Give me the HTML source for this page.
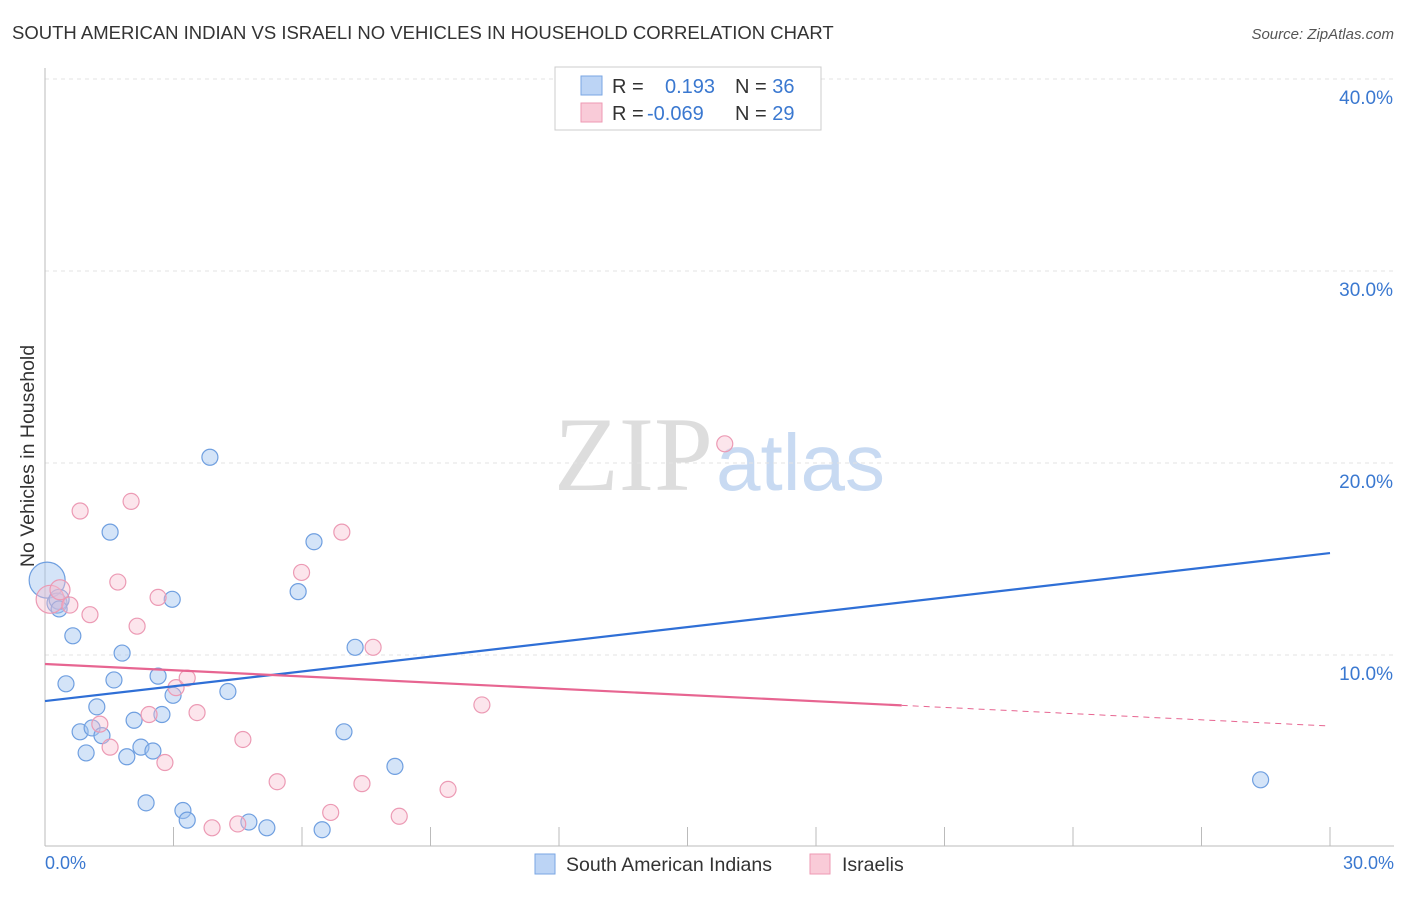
<!DOCTYPE html>
<html><head><meta charset="utf-8"><style>
body{margin:0;background:#fff;font-family:"Liberation Sans",sans-serif;}
</style></head><body>
<svg width="1406" height="892" xmlns="http://www.w3.org/2000/svg">
<text x="12" y="39" font-size="18.5" fill="#333">SOUTH AMERICAN INDIAN VS ISRAELI NO VEHICLES IN HOUSEHOLD CORRELATION CHART</text>
<text x="1394" y="39" font-size="15" fill="#555" font-style="italic" text-anchor="end">Source: ZipAtlas.com</text>
<text x="713" y="490" font-size="106" fill="#ddd" text-anchor="end" font-family="Liberation Serif">ZIP</text>
<text x="716" y="490" font-size="80" fill="#c8daf2">atlas</text>
<g id="grid"></g>
<line x1="45" y1="68" x2="45" y2="846" stroke="#bbb"/>
<line x1="45" y1="846" x2="1394" y2="846" stroke="#bbb"/>
<text transform="translate(34,456) rotate(-90)" font-size="19.5" fill="#333" text-anchor="middle">No Vehicles in Household</text>
<text x="45" y="869" font-size="18" fill="#3a78d0">0.0%</text>
<text x="1394" y="869" font-size="18" fill="#3a78d0" text-anchor="end">30.0%</text>
<g id="pts"></g>
<g id="lines"></g>
<rect x="555" y="67" width="266" height="63" fill="#fff" stroke="#ccc"/>
<rect x="581" y="76" width="21" height="19" fill="#bcd4f5" stroke="#7aa6e3"/>
<rect x="581" y="103" width="21" height="19" fill="#f9cbd8" stroke="#ee9ab3"/>
<text x="612" y="93" font-size="20" fill="#333">R = <tspan x="665" fill="#3a78d0">0.193</tspan><tspan x="735" fill="#333">N = </tspan><tspan fill="#3a78d0">36</tspan></text>
<text x="612" y="120" font-size="20" fill="#333">R = <tspan x="647" fill="#3a78d0">-0.069</tspan><tspan x="735" fill="#333">N = </tspan><tspan fill="#3a78d0">29</tspan></text>
<rect x="535" y="854" width="20" height="20" fill="#bcd4f5" stroke="#7aa6e3"/>
<text x="566" y="871" font-size="19.5" fill="#333">South American Indians</text>
<rect x="810" y="854" width="20" height="20" fill="#f9cbd8" stroke="#ee9ab3"/>
<text x="842" y="871" font-size="19.5" fill="#333">Israelis</text>
</svg>
<script>
const yTicks=[10,20,30,40];
const xTicks=[0,3,6,9,12,15,18,21,24,27,30];
const blueX=[0.05,0.28,0.33,0.65,0.49,1.21,0.82,0.96,1.1,1.33,1.52,1.8,1.61,1.91,2.08,2.24,2.52,2.64,2.73,2.99,2.97,2.36,3.22,3.32,3.85,4.27,4.76,5.18,5.91,6.28,6.47,6.98,7.24,8.17,28.38,0.33];
const blueY=[13.9,12.7,12.9,11.0,8.5,7.3,6.0,4.9,6.2,5.8,16.4,10.1,8.7,4.7,6.6,5.2,5.0,8.9,6.9,7.9,12.9,2.3,1.9,1.4,20.3,8.1,1.3,1.0,13.3,15.9,0.9,6.0,10.4,4.2,3.5,12.4];
const blueR=[18,10,10,8,8,8,8,8,8,8,8,8,8,8,8,8,8,8,8,8,8,8,8,8,8,8,8,8,8,8,8,8,8,8,8,8];
const pinkX=[0.12,0.35,0.58,0.82,1.05,1.7,2.01,2.15,1.28,1.52,2.43,2.64,2.8,3.06,3.32,3.55,3.9,4.5,4.62,5.42,5.99,6.67,6.93,7.4,7.66,8.27,9.41,10.2,15.87];
const pinkY=[12.9,13.4,12.6,17.5,12.1,13.8,18.0,11.5,6.4,5.2,6.9,13.0,4.4,8.3,8.8,7.0,1.0,1.2,5.6,3.4,14.3,1.8,16.4,3.3,10.4,1.6,3.0,7.4,21.0];
const pinkR=[14,10,8,8,8,8,8,8,8,8,8,8,8,8,8,8,8,8,8,8,8,8,8,8,8,8,8,8,8];
const blueLine=[7.6,15.31];
const pinkLine=[9.53,6.30];
const pinkSolidEnd=20;
const X=v=>45+v/30*1285, Y=v=>847-v*19.2;
const NS='http://www.w3.org/2000/svg';
function mk(t,a,p){const e=document.createElementNS(NS,t);for(const k in a)e.setAttribute(k,a[k]);document.getElementById(p).appendChild(e);return e;}
yTicks.forEach(t=>{
 const l=mk('line',{x1:45,x2:1394,y1:Y(t),y2:Y(t),stroke:'#e3e3e3','stroke-dasharray':'4,4'},'grid');
 
 
 const tx=mk('text',{x:1393,y:Y(t)+25,'font-size':19,fill:'#3a78d0','text-anchor':'end'},'grid');
 tx.textContent=t.toFixed(1)+'%';
 
 
});
xTicks.forEach((t,i)=>{
 const l=mk('line',{x1:X(t),x2:X(t),y1:827,y2:846,stroke:'#bbb'},'grid');
 
 
});
blueX.forEach((x,i)=>{
 const c=mk('circle',{cx:X(x),cy:Y(blueY[i]),r:blueR[i],fill:'rgba(160,195,240,0.45)',stroke:'#6f9fe0','stroke-width':1.2},'pts');
 
 
});
pinkX.forEach((x,i)=>{
 const c=mk('circle',{cx:X(x),cy:Y(pinkY[i]),r:pinkR[i],fill:'rgba(248,190,208,0.4)',stroke:'#ec9ab4','stroke-width':1.2},'pts');
 
 
});
const bl=mk('line',{x1:X(0),y1:Y(blueLine[0]),x2:X(30),y2:Y(blueLine[1]),stroke:'#2f6fd6','stroke-width':2.2},'lines');


const pm=pinkLine[0]+(pinkLine[1]-pinkLine[0])*pinkSolidEnd/30;
const pl=mk('line',{x1:X(0),y1:Y(pinkLine[0]),x2:X(pinkSolidEnd),y2:Y(pm),stroke:'#e76591','stroke-width':2.2},'lines');


const pd=mk('line',{x1:X(pinkSolidEnd),y1:Y(pm),x2:X(30),y2:Y(pinkLine[1]),stroke:'#e76591','stroke-width':1,'stroke-dasharray':'6,5'},'lines');


</script>
</body></html>
